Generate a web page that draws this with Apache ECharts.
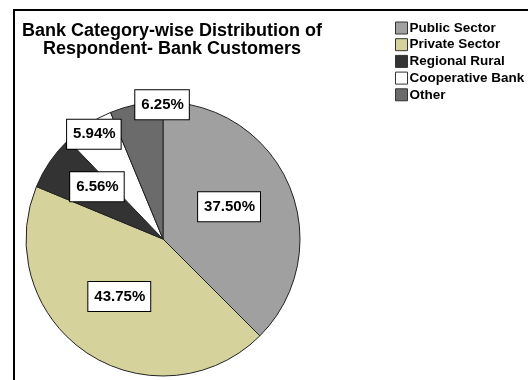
<!DOCTYPE html>
<html>
<head>
<meta charset="utf-8">
<script src="https://cdn.jsdelivr.net/npm/echarts@6/dist/echarts.min.js"></script>
<style>
  html, body { margin: 0; padding: 0; background: #fff; }
  #chart { width: 528px; height: 380px; }
</style>
</head>
<body>
<div id="chart"></div>
<script>
// Bank categories and their share of respondents (percent)
const categories = ['Public Sector', 'Private Sector', 'Regional Rural', 'Cooperative Bank', 'Other'];
const shares = [37.50, 43.75, 6.56, 5.94, 6.25];
const sliceColors = ['#a0a0a0', '#d6d29c', '#333333', '#ffffff', '#6b6b6b'];
// Label nudges away from the default inside position, per slice
const labelShift = [[0, -5], [-4, -2], [-7, -12], [-30, -45], [13, -64]];

const FONT = "'Liberation Sans', Arial, Helvetica, sans-serif";

const chart = echarts.init(document.getElementById('chart'), null, { renderer: 'canvas' });

chart.setOption({
  animation: false,
  backgroundColor: '#ffffff',
  title: {
    text: 'Bank Category-wise Distribution of\nRespondent- Bank Customers',
    left: 167,
    top: 17,
    textAlign: 'center',
    textStyle: { fontFamily: FONT, fontWeight: 'bold', fontSize: 18, lineHeight: 18, color: '#000' }
  },
  legend: {
    orient: 'vertical',
    left: 390,
    top: 16,
    padding: 5,
    icon: 'rect',
    itemWidth: 12,
    itemHeight: 12,
    itemGap: 2.7,
    selectedMode: false,
    itemStyle: { borderColor: '#333', borderWidth: 1 },
    textStyle: { fontFamily: FONT, fontWeight: 'bold', fontSize: 13.5, color: '#000', padding: [0, 0, 0, -3] },
    data: categories
  },
  graphic: [
    { type: 'line', shape: { x1: 13, y1: 10, x2: 528, y2: 10 }, style: { stroke: '#000', lineWidth: 2 } },
    { type: 'line', shape: { x1: 14, y1: 9, x2: 14, y2: 380 }, style: { stroke: '#000', lineWidth: 2 } }
  ],
  series: [{
    type: 'pie',
    center: [163, 239],
    radius: 137,
    startAngle: 90,
    clockwise: true,
    avoidLabelOverlap: false,
    silent: true,
    itemStyle: { borderColor: '#222', borderWidth: 1 },
    label: {
      show: true,
      position: 'inside',
      formatter: p => p.value.toFixed(2) + '%',
      fontFamily: FONT,
      fontWeight: 'bold',
      fontSize: 15,
      lineHeight: 18,
      color: '#000',
      backgroundColor: '#fff',
      borderColor: '#000',
      borderWidth: 1,
      padding: [6, 5, 5, 6]
    },
    labelLine: { show: false },
    labelLayout: p => ({ dx: labelShift[p.dataIndex][0], dy: labelShift[p.dataIndex][1] }),
    data: categories.map((name, i) => ({
      name,
      value: shares[i],
      itemStyle: { color: sliceColors[i] }
    }))
  }]
});
</script>
</body>
</html>
